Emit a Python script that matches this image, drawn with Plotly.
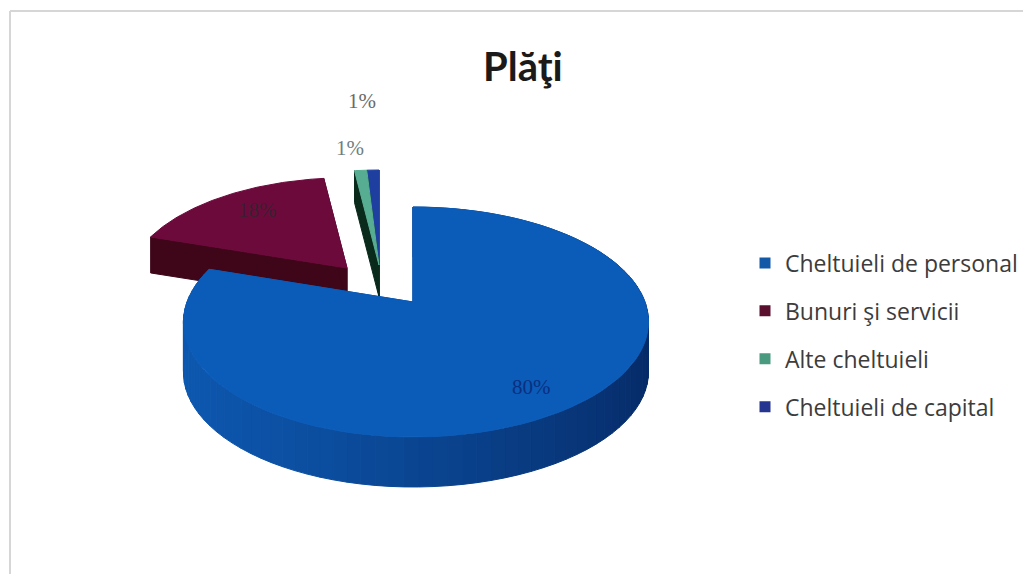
import math
import plotly.graph_objects as go

title = "Plăţi"
categories = ["Cheltuieli de personal", "Bunuri şi servicii", "Alte cheltuieli", "Cheltuieli de capital"]
values = [80, 18, 1, 1]

legend_colors = ["#125aa8", "#5a0f2e", "#4a9a80", "#26358f"]
top_colors = ["#0b5cb8", "#6d0a3c", "#57ad92", "#1e3fa0"]
side_colors = ["#0a4aa0", "#3f0619", "#0a2a1c", "#0d2058"]
apex = [(413, 302), (347, 268), (379, 265), (379, 265)]
scale = [1.0, 0.95, 1.0, 1.0]
skew = [3, 0, 0, 0]
depth = [50, 36, 32, 32]
label_pos = [(531, 387), (257, 210), (350, 148), (362, 101)]
label_colors = ["#0a2f80", "#3a2030", "#6f7f80", "#6a6a6a"]

A, B, K = 229.0, 111.5, 0.174
W, H = 1031, 574
PAGE_MARGIN = 8  # the browser's default body margin


def pt(i, theta):
    u, v = math.sin(theta), math.cos(theta)
    d = 1 + K * v
    ax, ay = apex[i]
    return ax + scale[i] * A * u / d + skew[i] * abs(u), ay - scale[i] * B * v / d


def mix(c1, c2, t):
    a = [int(c1[j:j + 2], 16) for j in (1, 3, 5)]
    b = [int(c2[j:j + 2], 16) for j in (1, 3, 5)]
    return "#" + "".join(f"{round(p + (q - p) * t):02x}" for p, q in zip(a, b))


def poly(xs, ys, color):
    return go.Scatter(x=xs, y=ys, mode="lines", fill="toself", fillcolor=color,
                      line=dict(color=color, width=1), hoverinfo="skip", showlegend=False)


fig = go.Figure()
total = sum(values)
spans = []
acc = 0.0
for v in values:
    spans.append((acc / total * 2 * math.pi, (acc + v) / total * 2 * math.pi))
    acc += v

# Slices drawn back to front: capital, other, goods, then personnel.
for i in [3, 2, 1, 0]:
    t0, t1 = spans[i]
    ax, ay = apex[i]
    d = depth[i]
    for t in (t0, t1):
        x, y = pt(i, t)
        fig.add_trace(poly([ax, x, x, ax, ax], [ay, y, y + d, ay + d, ay], side_colors[i]))
    if i == 0:
        n = int((t1 - t0) / math.radians(3))
        for k in range(n):
            a = t0 + (t1 - t0) * k / n
            b = t0 + (t1 - t0) * (k + 1) / n
            mid = (a + b) / 2
            f = min(1.0, max(0.0, (math.sin(mid) + 1) / 2))
            col = mix("#0d58b0", "#062a66", f ** 1.3)
            ts = [a, b]
            xs = [pt(i, q)[0] for q in ts]
            ys = [pt(i, q)[1] for q in ts]
            fig.add_trace(poly(xs + xs[::-1] + xs[:1], ys + [y + d for y in ys[::-1]] + ys[:1], col))
    m = 90
    ts = [t0 + (t1 - t0) * q / m for q in range(m + 1)]
    xs = [ax] + [pt(i, q)[0] for q in ts] + [ax]
    ys = [ay] + [pt(i, q)[1] for q in ts] + [ay]
    fig.add_trace(poly(xs, ys, top_colors[i]))

for i, name in enumerate(categories):
    fig.add_trace(go.Scatter(x=[None], y=[None], mode="markers", name=name, legendgroup=name,
                             marker=dict(symbol="square", size=11, color=legend_colors[i])))

annotations = [
    dict(x=label_pos[i][0], y=label_pos[i][1], text=f"{values[i]}%", showarrow=False,
         font=dict(family="Liberation Serif", size=21, color=label_colors[i]))
    for i in range(len(values))
]
annotations.append(dict(x=523, y=66, text=f"<b>{title}</b>", showarrow=False,
                        font=dict(family="Lato", size=40, color="#1a1a1a")))

fig.update_layout(
    width=W, height=H, autosize=False,
    margin=dict(l=0, r=0, t=0, b=0),
    paper_bgcolor="white", plot_bgcolor="white",
    xaxis=dict(range=[PAGE_MARGIN, W + PAGE_MARGIN], visible=False, fixedrange=True),
    yaxis=dict(range=[H + PAGE_MARGIN, PAGE_MARGIN], visible=False, fixedrange=True),
    annotations=annotations,
    shapes=[
        dict(type="line", xref="x", yref="y", x0=10, y0=11, x1=1040, y1=11,
             line=dict(color="#d6d6d6", width=2), layer="below"),
        dict(type="line", xref="x", yref="y", x0=10, y0=11, x1=10, y1=590,
             line=dict(color="#d6d6d6", width=2), layer="below"),
    ],
    legend=dict(x=(745 - PAGE_MARGIN) / W, y=1 - (335 - PAGE_MARGIN) / H, xanchor="left", yanchor="middle",
                font=dict(family="Open Sans", size=23, color="#3c3c3c"),
                tracegroupgap=15, bgcolor="rgba(0,0,0,0)", itemclick=False, itemdoubleclick=False),
    showlegend=True,
)
fig.write_html("out.html", config=dict(displayModeBar=False))
